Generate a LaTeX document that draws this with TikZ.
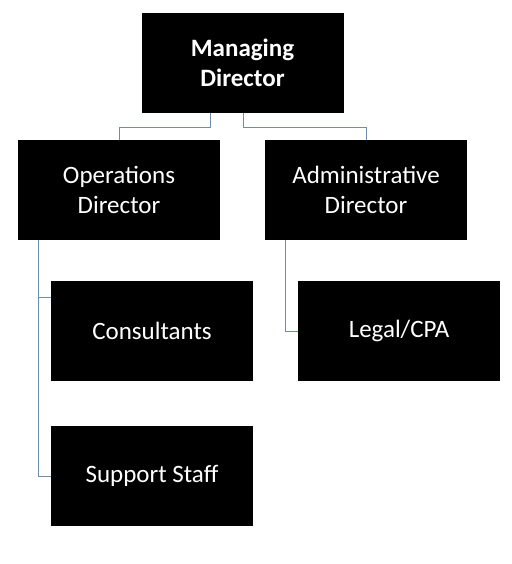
\documentclass[tikz,border=0pt]{standalone}
\usepackage{fontspec}
\setmainfont{Carlito}
\usetikzlibrary{positioning}
\begin{document}
\tikzset{
  box/.style={fill=black,text=white,minimum width=202pt,minimum height=100pt,
    align=center,inner sep=0pt,font=\fontsize{25}{30}\selectfont},
  link/.style={draw={rgb,255:red,110;green,140;blue,175},line width=0.8pt}
}
\begin{tikzpicture}[x=1pt,y=-1pt]
\useasboundingbox[fill=white] (0,0) rectangle (511,564);
\node[box,font=\fontsize{25}{30}\selectfont\bfseries] (md) at (242.5,63) {Managing\\Director};
\node[box] (ops) at (119,190) {Operations\\Director};
\node[box] (adm) at (366,190) {Administrative\\Director};
\node[box] (con) at (152,331) {Consultants};
\node[box] (leg) at (399,331) {Legal/CPA};
\node[box] (sup) at (152,476) {Support Staff};
% connectors
\coordinate (m1) at (210,113);
\coordinate (m2) at (243,113);
\coordinate (o1) at (38,240);
\coordinate (a1) at (285,240);
\draw[link] (m1) -- ++(0,14) -| (ops.north);
\draw[link] (m2) -- ++(0,14) -| (adm.north);
\draw[link] (o1) |- (con.west |- 0,297) ;
\draw[link] (o1) |- (sup.west);
\draw[link] (a1) |- (leg.west);
\end{tikzpicture}
\end{document}
